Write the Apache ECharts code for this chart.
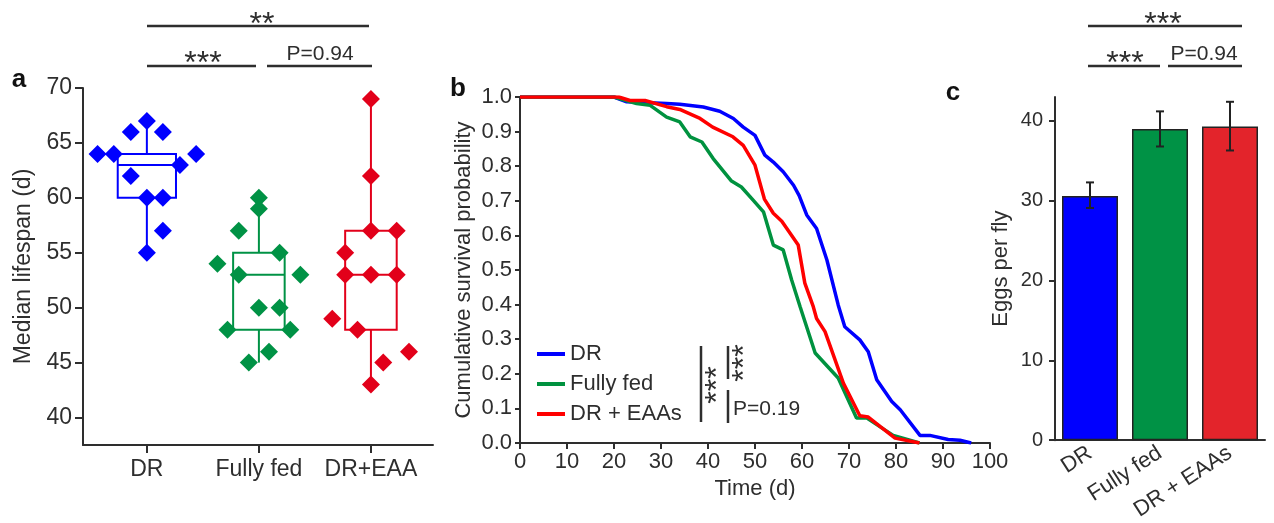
<!DOCTYPE html>
<html><head><meta charset="utf-8">
<script src="https://cdn.jsdelivr.net/npm/echarts@6/dist/echarts.min.js"></script>
<style>html,body{margin:0;padding:0;background:#fff}#c{width:1274px;height:523px}</style>
</head><body><div id="c"></div>
<script>
// ---------- Panel a: median lifespan ----------
const groupsA = ['DR', 'Fully fed', 'DR+EAA'];
const lifespanDR  = [64, 64, 66, 67, 66, 64, 63, 62, 60, 60, 57, 55];
const jitterDR    = [-0.44, -0.295, -0.143, 0, 0.143, 0.44, 0.295, -0.143, 0, 0.143, 0.143, 0];
const lifespanFF  = [60, 59, 57, 54, 53, 55, 53, 50, 50, 48, 48, 46, 45];
const jitterFF    = [0, 0, -0.18, -0.37, -0.18, 0.185, 0.37, 0, 0.185, -0.28, 0.28, 0.09, -0.09];
const lifespanEAA = [69, 62, 55, 57, 57, 53, 53, 53, 49, 48, 45, 46, 43];
const jitterEAA   = [0, 0, -0.23, 0, 0.23, -0.23, 0, 0.23, -0.345, -0.12, 0.11, 0.34, 0];
// [min, q1, median, q3, max]
const boxDR  = [55, 60, 63, 64, 67];
const boxFF  = [45, 48, 53, 55, 60];
const boxEAA = [43, 48, 53, 57, 69];
const ticksA = [40, 45, 50, 55, 60, 65, 70];

// ---------- Panel b: survival curves ----------
const survDR = [[0,1],[20,1],[22.7,0.986],[31.2,0.981],[34,0.979],[39,0.971],[42.5,0.959],[45.4,0.938],[47.5,0.913],[50,0.889],[52.1,0.832],[53.9,0.812],[56,0.784],[58.2,0.745],[59.4,0.715],[61,0.659],[63.1,0.62],[65.3,0.529],[67.7,0.399],[69.1,0.336],[72.3,0.298],[74.1,0.264],[75.9,0.183],[79.1,0.12],[80.9,0.096],[85.1,0.022],[87.2,0.022],[91.1,0.01],[93.6,0.008],[96,0]];
const survFF = [[0,1],[20,1],[24.8,0.981],[27.7,0.976],[31.2,0.942],[34,0.928],[36.2,0.885],[38.7,0.870],[41.1,0.822],[45,0.757],[47.1,0.74],[49.6,0.702],[51.8,0.668],[53.9,0.572],[56,0.558],[57.8,0.471],[59.6,0.394],[62.8,0.26],[67.7,0.188],[71.6,0.072],[73.8,0.072],[79.4,0.022],[85,0]];
const survEAA = [[0,1],[21,1],[23.4,0.99],[26.6,0.99],[31.2,0.972],[34,0.964],[38.3,0.938],[41,0.913],[45.3,0.885],[47.5,0.86],[50,0.803],[52,0.705],[53.9,0.664],[55.7,0.641],[59.2,0.572],[60.6,0.462],[62.4,0.394],[63.1,0.36],[64.9,0.322],[68.8,0.173],[72.3,0.079],[74.1,0.075],[76.6,0.048],[79.8,0.014],[85,0]];
const legendB = ['DR', 'Fully fed', 'DR + EAAs'];

// ---------- Panel c: eggs per fly ----------
const groupsC = ['DR', 'Fully fed', 'DR + EAAs'];
const eggs     = [30.6, 39.0, 39.3];
const eggsLow  = [29.1, 36.8, 36.3];
const eggsHigh = [32.3, 41.2, 42.4];
const ticksC = [0, 10, 20, 30, 40];

// ---------- styles ----------
const FONT = 'Liberation Sans, Arial, Helvetica, sans-serif';
const INK = '#2e2e2e';
const colA = ['#0000FF', '#009245', '#E2001A'];
const colB = ['#0000FF', '#00923F', '#FF0000'];
const colC = ['#0000FF', '#009245', '#E3242B'];
const BOX_HALF = [0.26, 0.23, 0.23];

const axLine = {lineStyle: {color: INK, width: 2}};

const chart = echarts.init(document.getElementById('c'), null, {renderer: 'canvas'});

function boxRender(params, api) {
  const i = params.dataIndex;
  const x = api.value(0), mn = api.value(1), q1 = api.value(2), md = api.value(3), q3 = api.value(4), mx = api.value(5);
  const hw = BOX_HALF[i];
  const tl = api.coord([x - hw, q3]), br = api.coord([x + hw, q1]);
  const pMin = api.coord([x, mn]), pMax = api.coord([x, mx]);
  const mL = api.coord([x - hw, md]), mR = api.coord([x + hw, md]);
  const st = {stroke: colA[i], lineWidth: 2, fill: 'rgba(0,0,0,0)'};
  return {type: 'group', children: [
    {type: 'line', shape: {x1: pMin[0], y1: pMin[1], x2: pMin[0], y2: br[1]}, style: st},
    {type: 'line', shape: {x1: pMax[0], y1: pMax[1], x2: pMax[0], y2: tl[1]}, style: st},
    {type: 'rect', shape: {x: tl[0], y: tl[1], width: br[0] - tl[0], height: br[1] - tl[1]}, style: st},
    {type: 'line', shape: {x1: mL[0], y1: mL[1], x2: mR[0], y2: mR[1]}, style: st}
  ]};
}

function errRender(params, api) {
  const x = api.value(0);
  const lo = api.coord([x, api.value(1)]), hi = api.coord([x, api.value(2)]);
  const st = {stroke: '#222', lineWidth: 2};
  return {type: 'group', children: [
    {type: 'line', shape: {x1: lo[0], y1: lo[1], x2: hi[0], y2: hi[1]}, style: st},
    {type: 'line', shape: {x1: lo[0] - 4, y1: lo[1], x2: lo[0] + 4, y2: lo[1]}, style: st},
    {type: 'line', shape: {x1: hi[0] - 4, y1: hi[1], x2: hi[0] + 4, y2: hi[1]}, style: st}
  ]};
}

function hline(x1, x2, y) {
  return {type: 'line', shape: {x1, y1: y, x2, y2: y}, style: {stroke: INK, lineWidth: 2.5}};
}
function vline(x, y1, y2) {
  return {type: 'line', shape: {x1: x, y1, x2: x, y2}, style: {stroke: INK, lineWidth: 2.5}};
}
function txt(text, x, y, font, opts) {
  return {type: 'text', x, y, style: Object.assign({text, fill: INK, font: font + ' ' + FONT, textAlign: 'center', textVerticalAlign: 'middle'}, opts || {})};
}

const scatter = (vals, jit, pos, i) => ({
  type: 'scatter', name: 'a' + i, xAxisIndex: 0, yAxisIndex: 0, symbol: 'diamond', symbolSize: 18,
  itemStyle: {color: colA[i], opacity: 1}, z: 5,
  data: vals.map((v, k) => [pos + jit[k], v])
});

const option = {
  animation: false,
  textStyle: {fontFamily: FONT, color: INK},
  grid: [
    {left: 83, top: 88, width: 350, height: 357},
    {left: 520, top: 97, width: 470, height: 346},
    {left: 1055, top: 97, width: 210, height: 347}
  ],
  xAxis: [
    {gridIndex: 0, type: 'value', min: 0.43, max: 3.554, splitLine: {show: false}, axisLine: axLine,
     axisTick: {customValues: [1, 2, 3], length: 8, lineStyle: {color: INK, width: 2}},
     axisLabel: {customValues: [1, 2, 3], formatter: v => groupsA[Math.round(v) - 1], fontSize: 23, color: INK, margin: 13}},
    {gridIndex: 1, type: 'value', min: 0, max: 100, interval: 10, splitLine: {show: false}, axisLine: axLine,
     axisTick: {length: 6, lineStyle: {color: INK, width: 2}},
     axisLabel: {fontSize: 22, color: INK, margin: 8},
     name: 'Time (d)', nameLocation: 'middle', nameGap: 35, nameTextStyle: {fontSize: 22, color: INK}},
    {gridIndex: 2, type: 'category', data: groupsC, axisLine: axLine,
     axisTick: {alignWithLabel: true, length: 6, lineStyle: {color: INK, width: 2}},
     axisLabel: {rotate: 33, fontSize: 22, color: INK, margin: 11, interval: 0}}
  ],
  yAxis: [
    {gridIndex: 0, type: 'value', min: 37.5, max: 70, splitLine: {show: false}, axisLine: {show: true, lineStyle: {color: INK, width: 2}},
     axisTick: {show: true, customValues: ticksA, length: 8, lineStyle: {color: INK, width: 2}},
     axisLabel: {customValues: ticksA, fontSize: 23, color: INK, margin: 11},
     name: 'Median lifespan (d)', nameLocation: 'middle', nameGap: 48, nameTextStyle: {fontSize: 23, color: INK}},
    {gridIndex: 1, type: 'value', min: 0, max: 1, interval: 0.1, splitLine: {show: false}, axisLine: {show: true, lineStyle: {color: INK, width: 2}},
     axisTick: {show: true, length: 5, lineStyle: {color: INK, width: 2}},
     axisLabel: {formatter: v => v.toFixed(1), fontSize: 22, color: INK, margin: 8},
     name: 'Cumulative survival probability', nameLocation: 'middle', nameGap: 45, nameTextStyle: {fontSize: 22, color: INK}},
    {gridIndex: 2, type: 'value', min: 0, max: 43, splitLine: {show: false}, axisLine: {show: true, lineStyle: {color: INK, width: 2}},
     axisTick: {show: true, customValues: ticksC, length: 6, lineStyle: {color: INK, width: 2}},
     axisLabel: {customValues: ticksC, fontSize: 20, color: INK, margin: 12},
     name: 'Eggs per fly', nameLocation: 'middle', nameGap: 43, nameTextStyle: {fontSize: 22, color: INK}}
  ],
  legend: {
    data: legendB, orient: 'vertical', left: 537, top: 343, padding: 0, itemGap: 8,
    itemWidth: 28, itemHeight: 4, icon: 'rect', textStyle: {fontSize: 22, color: INK, lineHeight: 22}
  },
  series: [
    {type: 'custom', name: 'boxes', xAxisIndex: 0, yAxisIndex: 0, renderItem: boxRender, z: 2,
     data: [[1].concat(boxDR), [2].concat(boxFF), [3].concat(boxEAA)]},
    scatter(lifespanDR, jitterDR, 1, 0),
    scatter(lifespanFF, jitterFF, 2, 1),
    scatter(lifespanEAA, jitterEAA, 3, 2),
    {type: 'line', name: legendB[0], xAxisIndex: 1, yAxisIndex: 1, data: survDR, showSymbol: false, color: colB[0], lineStyle: {width: 3.5, color: colB[0]}, z: 3},
    {type: 'line', name: legendB[1], xAxisIndex: 1, yAxisIndex: 1, data: survFF, showSymbol: false, color: colB[1], lineStyle: {width: 3.5, color: colB[1]}, z: 4},
    {type: 'line', name: legendB[2], xAxisIndex: 1, yAxisIndex: 1, data: survEAA, showSymbol: false, color: colB[2], lineStyle: {width: 3.5, color: colB[2]}, z: 5},
    {type: 'bar', name: 'eggs', xAxisIndex: 2, yAxisIndex: 2, barWidth: 56,
     data: eggs.map((v, i) => ({value: v, itemStyle: {color: colC[i], borderColor: '#222', borderWidth: 1.5}}))},
    {type: 'custom', name: 'err', xAxisIndex: 2, yAxisIndex: 2, renderItem: errRender, z: 6,
     data: groupsC.map((c, i) => [i, eggsLow[i], eggsHigh[i]])}
  ],
  graphic: [
    // panel letters
    txt('a', 19, 80, 'bold 26px', {fill: '#111'}),
    txt('b', 458, 89, 'bold 26px', {fill: '#111'}),
    txt('c', 953, 93, 'bold 26px', {fill: '#111'}),
    // panel a significance
    hline(147, 369, 26), txt('**', 262, 25, '32px'),
    hline(147, 256, 66), txt('***', 203, 64, '32px'),
    hline(267, 372, 66), txt('P=0.94', 320, 54.5, '21px'),
    // panel c significance
    hline(1088, 1242, 26), txt('***', 1163, 25, '32px'),
    hline(1088, 1160, 66), txt('***', 1125, 64, '32px'),
    hline(1168, 1242, 66), txt('P=0.94', 1204, 54.5, '21px'),
    // panel b significance
    vline(701, 346, 422), Object.assign(txt('***', 718, 385, '32px'), {rotation: Math.PI / 2}),
    vline(728, 346, 379), Object.assign(txt('***', 745, 363, '32px'), {rotation: Math.PI / 2}),
    vline(728, 390, 423), txt('P=0.19', 733, 409, '21px', {textAlign: 'left'})
  ]
};
chart.setOption(option);
</script></body></html>
